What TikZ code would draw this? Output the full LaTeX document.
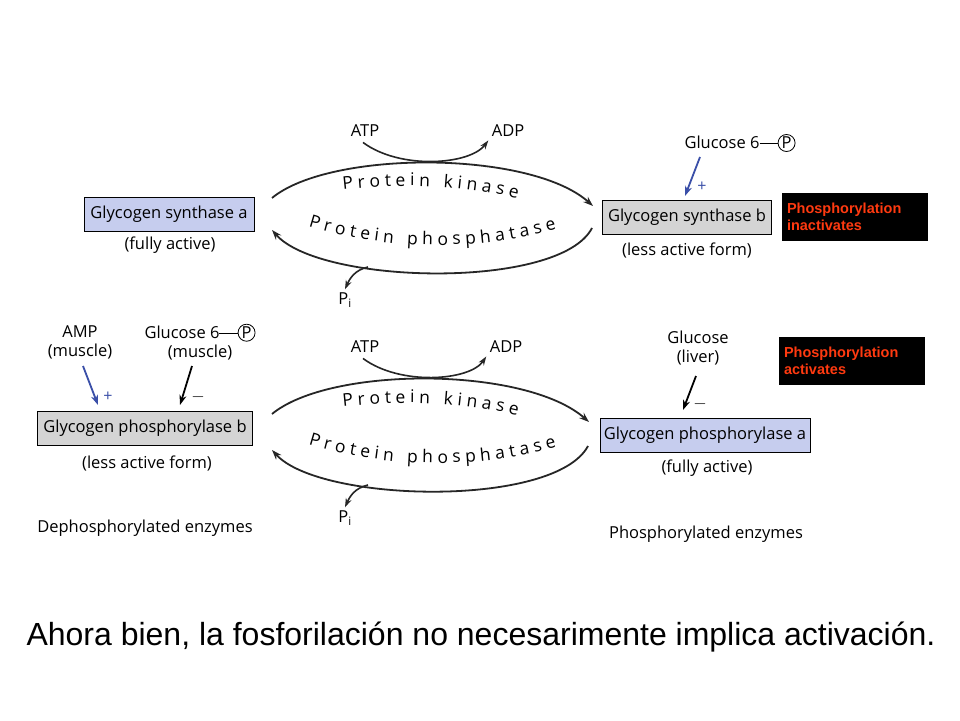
\documentclass[tikz,border=0pt]{standalone}
\usepackage{fontspec}
\setmainfont{Open Sans}
\newfontfamily\arial{Liberation Sans}
\usetikzlibrary{decorations.text,arrows.meta}
\definecolor{lblue}{HTML}{C6CDEE}
\definecolor{lgray}{HTML}{D4D4D4}
\definecolor{redtxt}{HTML}{FF3A10}
\definecolor{arblue}{HTML}{3A4FA8}
\newcommand{\circP}{\tikz[baseline=(cp.base)]\node[circle,draw,inner sep=0.6pt,line width=0.8pt](cp){P};}
\newcommand{\gsixp}{Glucose 6\rule[0.55ex]{1.1em}{0.8pt}\circP}
\begin{document}
\begin{tikzpicture}[x=1pt,y=-1pt,
  enz/.style={draw,line width=0.8pt,minimum height=34pt,inner sep=2pt,font=\fontsize{16.5}{18}\selectfont},
  lab/.style={font=\fontsize{16.5}{19}\selectfont},
  blk/.style={fill=black,text=redtxt,font=\arial\bfseries\fontsize{14.5}{17}\selectfont,align=left,text width=136pt,minimum height=48pt,inner sep=5pt},
  cyc/.style={line width=1.8pt,-{Stealth[length=10pt,width=7pt]},draw=black!85},
  small/.style={line width=1.6pt,-{Stealth[length=9pt,width=6pt]},draw=black!85},
  reg/.style={line width=1.8pt,-{Stealth[length=10pt,width=7pt]}},
  curvtxt/.style={decorate,decoration={text along path,text align=center,text={|\fontsize{17.5}{19}\selectfont|#1}}}
]
\useasboundingbox (0,0) rectangle (960,720);
\fill[white] (0,0) rectangle (960,720);

% ---- top cycle ----
\node[enz,fill=lblue,minimum width=170pt] (gsa) at (169,214) {Glycogen synthase a};
\node[lab] (gsa2) at (170,245) {(fully active)};
\node[enz,fill=lgray,minimum width=169pt] (gsb) at (687,217) {Glycogen synthase b};
\node[lab] (gsb2) at (687,250) {(less active form)};
\node[blk] (b1) at (855,217) {Phosphorylation\\inactivates};

\node[lab] (atp1) at (365,131) {ATP};
\node[lab] (adp1) at (508,131) {ADP};
\node[lab] (pi1) at (345,300) {P\textsubscript{i}};
\coordinate (t1s) at (272,198);
\coordinate (t1e) at (593,206);
\coordinate (b1s) at (592,228);
\coordinate (b1e) at (272,230);
\draw[cyc] (t1s) .. controls (330,150) and (530,150) .. (t1e);
\draw[cyc] (b1s) .. controls (560,290) and (320,285) .. (b1e);
\draw[small] (atp1.south) ++(-2,2) .. controls (400,170) and (470,165) .. (adp1.south west);
\draw[small] (368,267) .. controls (355,270) and (350,278) .. (pi1.north);
\path[curvtxt={P r o t e i n {   } k i n a s e}] (318,193) .. controls (400,181) and (470,184) .. (542,205);
\path[curvtxt={P r o t e i n {   } p h o s p h a t a s e}] (298,223) .. controls (380,251) and (480,253) .. (567,226);

\node[lab] (g6a) at (740,143) {\gsixp};
\draw[reg,draw=arblue] (700,157) -- (685,196);
\node[text=arblue,font=\fontsize{16}{16}\selectfont] (pl1) at (702,187) {+};

% ---- bottom cycle ----
\node[enz,fill=lgray,minimum width=215pt] (gpb) at (145,428) {Glycogen phosphorylase b};
\node[lab] (gpb2) at (147,463) {(less active form)};
\node[enz,fill=lblue,minimum width=210pt] (gpa) at (705,435) {Glycogen phosphorylase a};
\node[lab] (gpa2) at (707,468) {(fully active)};
\node[blk] (b2) at (852,361) {Phosphorylation\\activates};

\node[lab] (atp2) at (365,347) {ATP};
\node[lab] (adp2) at (506,347) {ADP};
\node[lab] (pi2) at (345,518) {P\textsubscript{i}};
\coordinate (t2s) at (272,414);
\coordinate (t2e) at (589,422);
\coordinate (b2s) at (588,446);
\coordinate (b2e) at (272,450);
\draw[cyc] (t2s) .. controls (330,366) and (525,366) .. (t2e);
\draw[cyc] (b2s) .. controls (555,508) and (320,503) .. (b2e);
\draw[small] (atp2.south) ++(-2,2) .. controls (400,386) and (470,381) .. (adp2.south west);
\draw[small] (368,485) .. controls (355,488) and (350,496) .. (pi2.north);
\path[curvtxt={P r o t e i n {   } k i n a s e}] (318,410) .. controls (400,398) and (470,401) .. (542,422);
\path[curvtxt={P r o t e i n {   } p h o s p h a t a s e}] (298,441) .. controls (380,469) and (480,471) .. (567,444);

\node[lab,align=center] (amp) at (80,342) {AMP\\(muscle)};
\draw[reg,draw=arblue] (83,366) -- (98,405);
\node[text=arblue,font=\fontsize{16}{16}\selectfont] (pl2) at (108,397) {+};
\node[lab,align=center] (g6b) at (200,342) {\gsixp\\(muscle)};
\draw[reg] (192,366) -- (180,405);
\node[font=\fontsize{16}{16}\selectfont] (mi1) at (198,397) {$-$};
\node[lab,align=center] (glc) at (698,348) {Glucose\\(liver)};
\draw[reg] (696,376) -- (683,410);
\node[font=\fontsize{16}{16}\selectfont] (mi2) at (700,404) {$-$};

\node[lab] (deph) at (145,528) {Dephosphorylated enzymes};
\node[lab] (ph) at (706,534) {Phosphorylated enzymes};

\node[font=\arial\fontsize{32}{36}\selectfont] (sent) at (481,637) {Ahora bien, la fosforilación no necesarimente implica activación.};
\end{tikzpicture}
\end{document}
